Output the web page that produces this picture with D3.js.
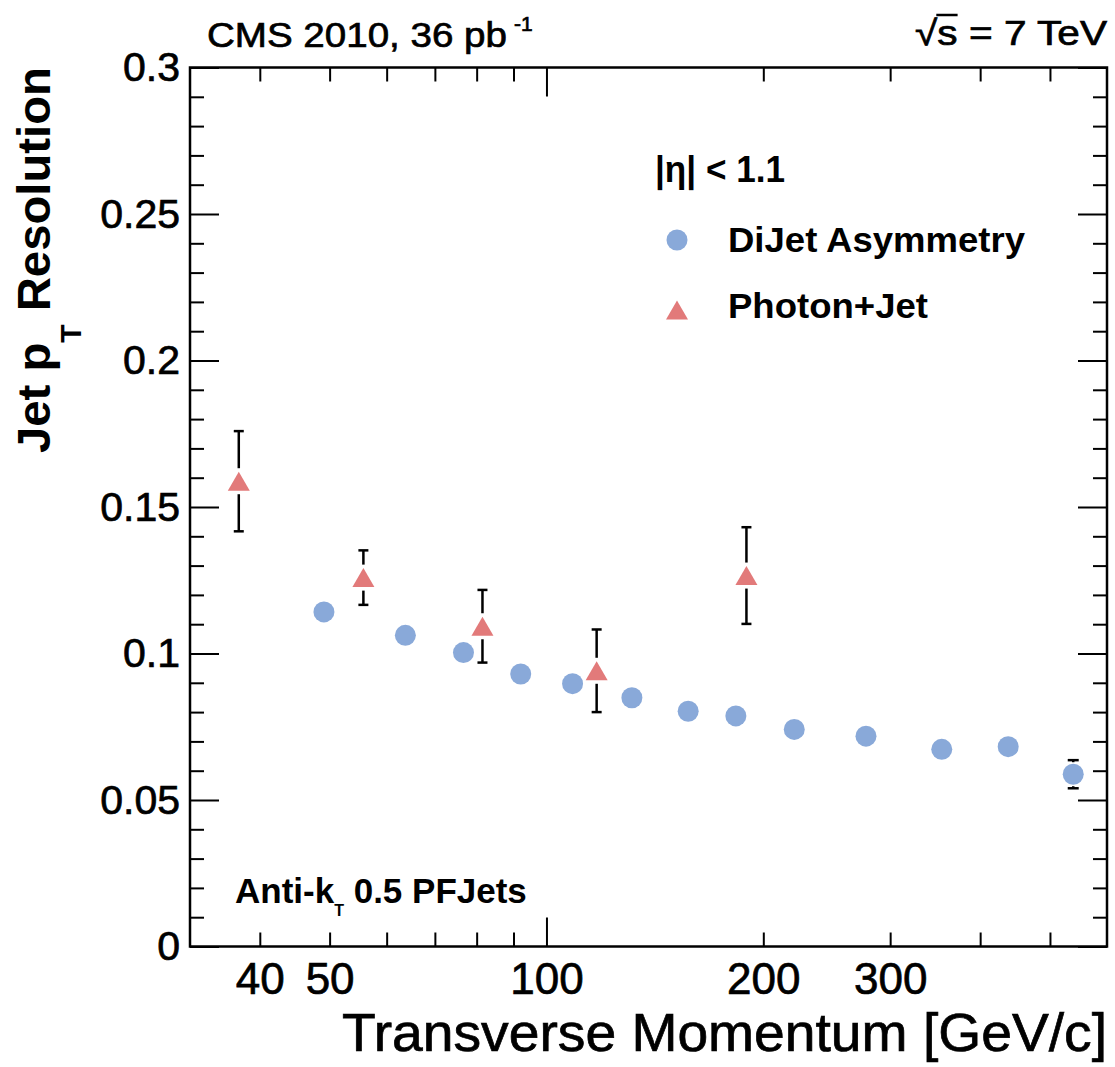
<!DOCTYPE html>
<html><head><meta charset="utf-8">
<script src="https://cdn.jsdelivr.net/npm/d3@7"></script>
<style>
body{margin:0;background:#fff}
svg{display:block}
text{font-family:"Liberation Sans",Arial,Helvetica,sans-serif;fill:#000}
.heavy{stroke:#000;stroke-width:0.7px}
</style>
</head><body>
<svg id="c" width="1115" height="1067"></svg>
<script>
// ---- data ----
const dijetPt  = [49.1, 63.7, 76.7, 92.1, 108.7, 131.4, 157.3, 183.2, 220.8, 277.7, 353.8, 437.5, 538.6];
const dijetRes = [0.1142, 0.1062, 0.1003, 0.0930, 0.0897, 0.0849, 0.0803, 0.0787, 0.0741, 0.0718, 0.0673, 0.0682, 0.0588];
const dijetErr = [0.002, 0.002, 0.002, 0.002, 0.002, 0.002, 0.002, 0.002, 0.002, 0.002, 0.002, 0.002, 0.0048];

const photonPt  = [37.4, 55.7, 81.5, 117.4, 189.5];
const photonRes = [0.1588, 0.1259, 0.1093, 0.0941, 0.1266];
const photonErr = [0.0171, 0.0093, 0.0124, 0.0141, 0.0165];

const xMajorTicks = [100];
const xMinorTicks = [40, 50, 60, 70, 80, 90, 200, 300, 400, 500];
const xTickLabels = [40, 50, 100, 200, 300];
const yMajorTicks = [0, 0.05, 0.1, 0.15, 0.2, 0.25, 0.3];
const yTickLabels = ["0", "0.05", "0.1", "0.15", "0.2", "0.25", "0.3"];
const yMinorTicks = d3.range(1, 30).filter(i => i % 5 !== 0).map(i => i / 100);

const seriesNames = ["DiJet Asymmetry", "Photon+Jet"];
const dijetColor = "#89a9d9";
const photonColor = "#e27a7a";

// ---- layout ----
const L = 190, R = 1107, T = 67.5, B = 946.5;
const svg = d3.select("#c");
const x = d3.scaleLog().domain([32, 600]).range([L, R]);
const y = d3.scaleLinear().domain([0, 0.3]).range([B, T]);

function styleAxis(g) {
  g.select(".domain").remove();
  g.selectAll(".tick line").attr("stroke", "#000").attr("stroke-width", 2);
}
// bottom / top ticks
svg.append("g").attr("transform", `translate(0,${B})`)
  .call(d3.axisBottom(x).tickValues(xMajorTicks).tickSize(-29).tickFormat("")).call(styleAxis);
svg.append("g").attr("transform", `translate(0,${B})`)
  .call(d3.axisBottom(x).tickValues(xMinorTicks).tickSize(-14).tickFormat("")).call(styleAxis);
svg.append("g").attr("transform", `translate(0,${T})`)
  .call(d3.axisTop(x).tickValues(xMajorTicks).tickSize(-29).tickFormat("")).call(styleAxis);
svg.append("g").attr("transform", `translate(0,${T})`)
  .call(d3.axisTop(x).tickValues(xMinorTicks).tickSize(-14).tickFormat("")).call(styleAxis);
// left / right ticks
svg.append("g").attr("transform", `translate(${L},0)`)
  .call(d3.axisLeft(y).tickValues(yMajorTicks).tickSize(-29).tickFormat("")).call(styleAxis);
svg.append("g").attr("transform", `translate(${L},0)`)
  .call(d3.axisLeft(y).tickValues(yMinorTicks).tickSize(-14).tickFormat("")).call(styleAxis);
svg.append("g").attr("transform", `translate(${R},0)`)
  .call(d3.axisRight(y).tickValues(yMajorTicks).tickSize(-29).tickFormat("")).call(styleAxis);
svg.append("g").attr("transform", `translate(${R},0)`)
  .call(d3.axisRight(y).tickValues(yMinorTicks).tickSize(-14).tickFormat("")).call(styleAxis);

// tick labels
const xl = svg.append("g").attr("transform", `translate(0,${B})`)
  .call(d3.axisBottom(x).tickValues(xTickLabels).tickSize(0).tickPadding(16).tickFormat(d => String(d)));
xl.select(".domain").remove();
xl.selectAll("text").attr("font-size", 44).attr("class", "heavy")
  .attr("font-family", '"Liberation Sans",Arial,sans-serif').attr("fill", "#000");

const yl = svg.append("g").attr("transform", `translate(${L},0)`)
  .call(d3.axisLeft(y).tickValues(yMajorTicks).tickSize(0).tickPadding(10).tickFormat((d, i) => yTickLabels[i]));
yl.select(".domain").remove();
yl.selectAll("text").attr("font-size", 41).attr("class", "heavy")
  .attr("font-family", '"Liberation Sans",Arial,sans-serif').attr("fill", "#000");

// ---- error bars ----
function errorBars(pts, vals, errs, gap, capW) {
  const g = svg.append("g").attr("stroke", "#000").attr("stroke-width", 2.5);
  pts.forEach((p, i) => {
    const cx = x(p), cy = y(vals[i]);
    const yt = y(vals[i] + errs[i]), yb = y(vals[i] - errs[i]);
    if (yt < cy - gap) g.append("line").attr("x1", cx).attr("x2", cx).attr("y1", yt).attr("y2", cy - gap);
    if (yb > cy + gap) g.append("line").attr("x1", cx).attr("x2", cx).attr("y1", cy + gap).attr("y2", yb);
    g.append("line").attr("x1", cx - capW / 2).attr("x2", cx + capW / 2).attr("y1", yt).attr("y2", yt);
    g.append("line").attr("x1", cx - capW / 2).attr("x2", cx + capW / 2).attr("y1", yb).attr("y2", yb);
  });
}
errorBars(dijetPt, dijetRes, dijetErr, 12, 11);
errorBars(photonPt, photonRes, photonErr, 13, 10);

const triUp = { draw(ctx) { const w = 22, h = 19; ctx.moveTo(0, -h / 2); ctx.lineTo(w / 2, h / 2); ctx.lineTo(-w / 2, h / 2); ctx.closePath(); } };

svg.append("g").selectAll("circle").data(dijetPt).join("circle")
  .attr("cx", d => x(d)).attr("cy", (d, i) => y(dijetRes[i])).attr("r", 10.5).attr("fill", dijetColor);
svg.append("g").selectAll("path").data(photonPt).join("path")
  .attr("d", d3.symbol().type(triUp)())
  .attr("transform", (d, i) => `translate(${x(d)},${y(photonRes[i])})`).attr("fill", photonColor);

// ---- frame ----
svg.append("rect").attr("x", L).attr("y", T).attr("width", R - L).attr("height", B - T)
  .attr("fill", "none").attr("stroke", "#000").attr("stroke-width", 2.5);

// ---- legend ----
svg.append("text").attr("x", 655).attr("y", 181.7).attr("font-size", 36).attr("font-weight", "bold")
  .attr("textLength", 130).attr("lengthAdjust", "spacingAndGlyphs").text("|η| < 1.1");
svg.append("circle").attr("cx", 677).attr("cy", 240).attr("r", 10.5).attr("fill", dijetColor);
svg.append("path").attr("d", d3.symbol().type(triUp)()).attr("transform", "translate(677,310)").attr("fill", photonColor);
svg.append("text").attr("x", 728).attr("y", 251.7).attr("font-size", 35).attr("font-weight", "bold")
  .attr("textLength", 297).attr("lengthAdjust", "spacingAndGlyphs").text(seriesNames[0]);
svg.append("text").attr("x", 728).attr("y", 318.3).attr("font-size", 35).attr("font-weight", "bold")
  .attr("textLength", 200).attr("lengthAdjust", "spacingAndGlyphs").text(seriesNames[1]);

// ---- annotations ----
const ak = svg.append("text").attr("x", 235).attr("y", 903).attr("font-size", 35).attr("font-weight", "bold");
ak.append("tspan").text("Anti-k");
ak.append("tspan").attr("font-size", 16).attr("dy", 13).text("T");
ak.append("tspan").attr("dy", -13).text(" 0.5 PFJets");

svg.append("text").attr("x", 207).attr("y", 46.7).attr("font-size", 35).attr("class", "heavy")
  .attr("textLength", 300).attr("lengthAdjust", "spacingAndGlyphs").text("CMS 2010, 36 pb");
svg.append("text").attr("x", 514).attr("y", 31).attr("font-size", 21).attr("class", "heavy").text("-1");

const rs = svg.append("text").attr("x", 1107).attr("y", 45).attr("font-size", 35).attr("text-anchor", "end")
  .attr("class", "heavy").attr("textLength", 192).attr("lengthAdjust", "spacingAndGlyphs").text("√s = 7 TeV");
{
  const n = rs.node();
  const e0 = n.getExtentOfChar(0), e1 = n.getExtentOfChar(1);
  svg.append("line").attr("x1", e0.x + e0.width - 1).attr("x2", e1.x + e1.width)
    .attr("y1", e0.y + 2).attr("y2", e0.y + 2).attr("stroke", "#000").attr("stroke-width", 2.5);
}

// axis titles
svg.append("text").attr("x", R).attr("y", 1051).attr("font-size", 53).attr("text-anchor", "end")
  .attr("class", "heavy").attr("textLength", 765).attr("lengthAdjust", "spacingAndGlyphs")
  .text("Transverse Momentum [GeV/c]");

const yt = svg.append("text").attr("transform", "translate(50,453) rotate(-90)").attr("font-size", 46)
  .attr("font-weight", "bold").attr("textLength", 386).attr("lengthAdjust", "spacingAndGlyphs");
yt.append("tspan").text("Jet p");
yt.append("tspan").attr("font-size", 29).attr("dy", 31).text("T");
yt.append("tspan").attr("dy", -31).text(" Resolution");
</script>
</body></html>
